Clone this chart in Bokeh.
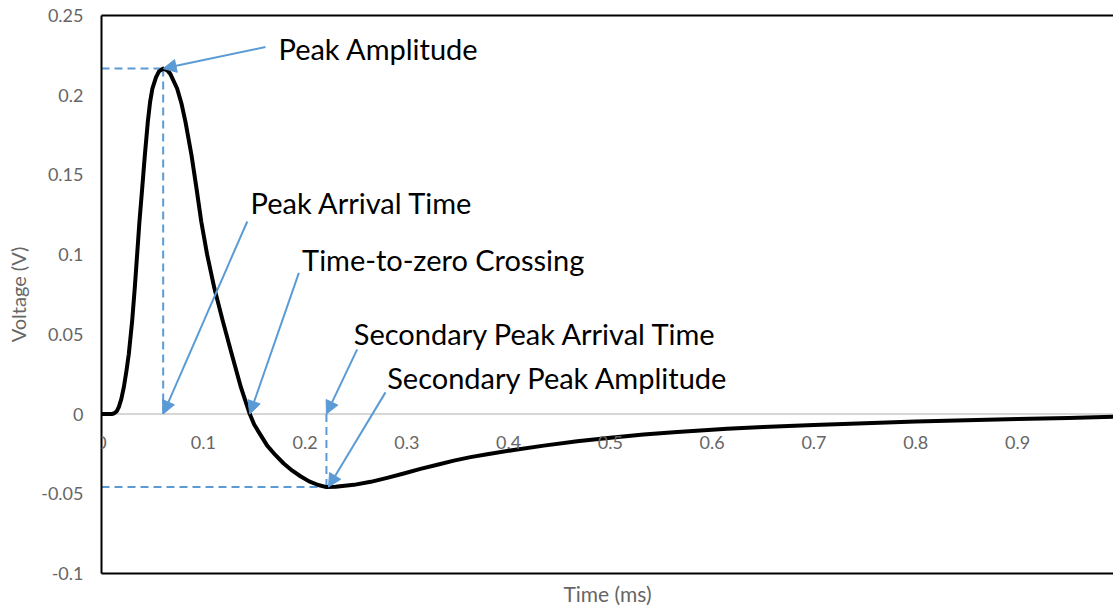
from bokeh.plotting import figure
from bokeh.models import (Range1d, FixedTicker, LinearAxis, Span, Arrow, NormalHead,
                          ColumnDataSource, LabelSet)
from bokeh.core.properties import value
from bokeh.embed import file_html
from bokeh.resources import INLINE

# Pulse waveform (time in ms, voltage in V)
time_ms = [0, 0.010, 0.0125, 0.015, 0.017, 0.0195, 0.0219, 0.0245, 0.0268, 0.0301,
           0.0327, 0.035, 0.0373, 0.040, 0.0426, 0.0455, 0.0478, 0.050, 0.0536, 0.0565,
           0.0606, 0.0647, 0.0676, 0.0743, 0.0785, 0.0825, 0.0884, 0.0933,
           0.098, 0.1038, 0.1108, 0.1192, 0.128, 0.137, 0.1457, 0.150, 0.155, 0.1628,
           0.171, 0.179, 0.1875, 0.1955, 0.204, 0.213, 0.221, 0.23, 0.248, 0.2645,
           0.2807, 0.297, 0.3134, 0.33, 0.3462, 0.3625, 0.379, 0.405, 0.4346, 0.4674,
           0.50, 0.5326, 0.5656, 0.6147, 0.65, 0.70, 0.75, 0.80, 0.85, 0.90,
           0.95, 0.994]
voltage_v = [0, 0, 0.0005, 0.0018, 0.0044, 0.0095, 0.0167, 0.027, 0.0375, 0.0583,
             0.0792, 0.10, 0.1208, 0.1417, 0.1625, 0.1833, 0.196, 0.2042, 0.2113, 0.2149,
             0.2167, 0.2156, 0.2134, 0.2042, 0.195, 0.1833, 0.1625, 0.1417,
             0.1208, 0.10, 0.0792, 0.0583, 0.0375, 0.0167, 0, -0.0065, -0.0118, -0.0198,
             -0.0258, -0.031, -0.0355, -0.039, -0.0422, -0.0445, -0.0458, -0.0456, -0.0444, -0.0425,
             -0.040, -0.0373, -0.0344, -0.0318, -0.0292, -0.027, -0.0252, -0.0225, -0.0198, -0.017,
             -0.0148, -0.0128, -0.0112, -0.0092, -0.0081, -0.0069, -0.0057, -0.0046, -0.0038, -0.0031,
             -0.0024, -0.0017]

# Key features of the waveform
peak_t, peak_v = 0.0606, 0.2167
zero_t = 0.1457
sec_t, sec_v = 0.221, -0.0458

x_ticks = [0, 0.1, 0.2, 0.3, 0.4, 0.5, 0.6, 0.7, 0.8, 0.9]
x_tick_labels = ["0", "0.1", "0.2", "0.3", "0.4", "0.5", "0.6", "0.7", "0.8", "0.9"]
y_ticks = [-0.1, -0.05, 0, 0.05, 0.1, 0.15, 0.2, 0.25]
y_tick_labels = ["-0.1", "-0.05", "0", "0.05", "0.1", "0.15", "0.2", "0.25"]

annotation_text = ["Peak Amplitude", "Peak Arrival Time", "Time-to-zero Crossing",
                   "Secondary Peak Arrival Time", "Secondary Peak Amplitude"]
# anchor of each caption (left edge, baseline) in data units
caption_t = [0.1739, 0.1464, 0.1971, 0.2479, 0.2807]
caption_v = [0.2292, 0.1328, 0.0969, 0.0505, 0.0230]
# arrow tails in data units; heads point at the features
arrow_t0 = [0.1611, 0.1432, 0.1939, 0.2512, 0.279]
arrow_v0 = [0.2302, 0.1208, 0.0886, 0.0406, 0.0136]
arrow_t1 = [peak_t, peak_t, zero_t, sec_t, sec_t + 0.002]
arrow_v1 = [peak_v, 0, 0, 0, sec_v]

BLUE = "#5B9BD5"
GRAY = "#666666"
FONT = "Lato"

p = figure(width=1113, height=608,
           x_range=Range1d(0, 0.9943), y_range=Range1d(-0.1, 0.25),
           output_backend="svg", toolbar_location=None,
           min_border_left=101, min_border_right=0, min_border_top=15, min_border_bottom=33)
p.outline_line_color = None
p.xgrid.visible = False
p.ygrid.visible = False
p.background_fill_color = "white"
p.border_fill_color = "white"

# y axis
yax = p.yaxis[0]
yax.ticker = FixedTicker(ticks=y_ticks)
yax.major_label_overrides = dict(zip(y_ticks, y_tick_labels))
yax.major_tick_out = 0
yax.major_tick_in = 0
yax.minor_tick_line_color = None
yax.axis_line_color = "black"
yax.axis_line_width = 2
yax.major_label_standoff = 18
yax.major_label_text_font = FONT
yax.major_label_text_font_size = "18px"
yax.major_label_text_color = GRAY
yax.axis_label = "Voltage (V)"
yax.axis_label_text_font = FONT
yax.axis_label_text_font_size = "20px"
yax.axis_label_text_font_style = "normal"
yax.axis_label_text_color = GRAY
yax.axis_label_standoff = 8

# bottom axis: frame edge and title only
xax = p.xaxis[0]
xax.ticker = FixedTicker(ticks=[])
xax.major_tick_out = 0
xax.major_tick_in = 0
xax.minor_tick_line_color = None
xax.axis_line_color = "black"
xax.axis_line_width = 2
xax.axis_label = "Time (ms)"
xax.axis_label_text_font = FONT
xax.axis_label_text_font_size = "21px"
xax.axis_label_text_font_style = "normal"
xax.axis_label_text_color = GRAY
xax.axis_label_standoff = 7

# top frame edge
top = LinearAxis(ticker=FixedTicker(ticks=[]), major_tick_out=0, major_tick_in=0,
                 minor_tick_line_color=None, axis_line_color="black", axis_line_width=2,
                 major_label_text_font_size="0px")
p.add_layout(top, "above")

# zero line
p.add_layout(Span(location=0, dimension="width", line_color="#c8c8c8",
                  line_width=1.5, level="underlay"))

# x tick labels sitting under the zero line
xt_src = ColumnDataSource(dict(x=x_ticks, y=[0] * len(x_ticks), text=x_tick_labels))
p.add_layout(LabelSet(x="x", y="y", text="text", source=xt_src, y_offset=-28,
                      text_align="center", text_baseline="middle",
                      text_font=value(FONT), text_font_size="18px", text_color=GRAY))

# dashed guide lines to the peaks
p.segment(x0=[0, peak_t, 0, sec_t], y0=[peak_v, peak_v, sec_v, 0],
          x1=[peak_t, peak_t, sec_t, sec_t], y1=[peak_v, 0, sec_v, sec_v],
          line_color=BLUE, line_width=2, line_dash="8 5")

# waveform
p.line(time_ms, voltage_v, line_color="black", line_width=4, line_join="round")

# arrows
arr_src = ColumnDataSource(dict(x0=arrow_t0, y0=arrow_v0, x1=arrow_t1, y1=arrow_v1))
p.add_layout(Arrow(x_start="x0", y_start="y0", x_end="x1", y_end="y1", source=arr_src,
                   line_color=BLUE, line_width=2,
                   end=NormalHead(size=13, fill_color=BLUE, line_color=BLUE, line_width=1)))

# captions
p.text(x=caption_t, y=caption_v, text=annotation_text,
       text_font=value(FONT), text_font_size="29px", text_color="black",
       text_align="left", text_baseline="alphabetic")

open("out.html", "w").write(file_html(p, INLINE))
